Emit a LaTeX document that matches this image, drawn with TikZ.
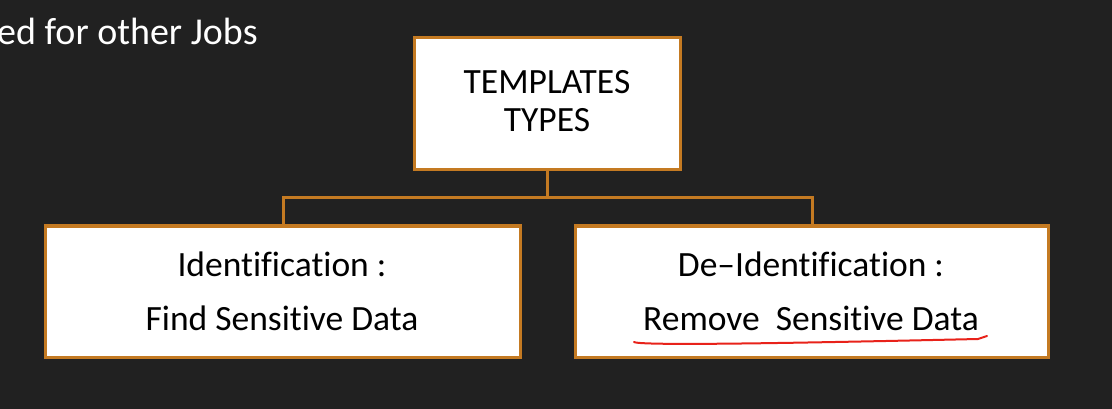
\documentclass[tikz,border=0pt]{standalone}
\usepackage{fontspec}
\setmainfont[Ligatures=NoCommon]{Carlito}
\definecolor{bg}{HTML}{212121}
\definecolor{edge}{HTML}{C47A22}
\definecolor{redline}{HTML}{E8221A}
\begin{document}
\begin{tikzpicture}[x=1pt,y=-1pt,
  box/.style={draw=edge,line width=3pt,fill=white,inner sep=0pt},
  conn/.style={draw=edge,line width=3pt},
  lbl/.style={font=\fontsize{35.5}{40}\selectfont,text=black,anchor=base}]
\fill[bg] (0,0) rectangle (1112,409);
\useasboundingbox (0,0) rectangle (1112,409);
\node[anchor=base west,text=white,font=\fontsize{38}{44}\selectfont,inner sep=0pt] (cap) at (-3,45) {ed for other Jobs};
\node[box,minimum width=266pt,minimum height=132pt] (top) at (547,104) {};
\node[box,minimum width=475pt,minimum height=131pt] (left) at (282.5,291.5) {};
\node[box,minimum width=473pt,minimum height=131pt] (right) at (811.5,291.5) {};
\node[lbl] (t1) at (547,94) {TEMPLATES};
\node[lbl] (t2) at (547,132) {TYPES};
\node[lbl] (l1) at (282,276) {Identification :};
\node[lbl] (l2) at (282,330) {Find Sensitive Data};
\node[lbl] (r1) at (811,276) {De–Identification :};
\node[lbl] (r2) at (811,330) {Remove\ \ Sensitive Data};
\coordinate (j) at (547,198);
\coordinate (jl) at (283,198);
\coordinate (jr) at (812,198);
\draw[conn] (top.south) -- (j);
\draw[conn,line cap=rect] (jl) -- (jr);
\draw[conn] (jl) -- (jl |- left.north);
\draw[conn] (jr) -- (jr |- right.north);
\coordinate (u1) at (634,342);
\coordinate (u2) at (978,339);
\coordinate (u3) at (987,336);
\draw[redline,line width=2pt,line cap=round] (u1) .. controls (640,346) and (800,343) .. (u2) -- (u3);
\end{tikzpicture}
\end{document}
